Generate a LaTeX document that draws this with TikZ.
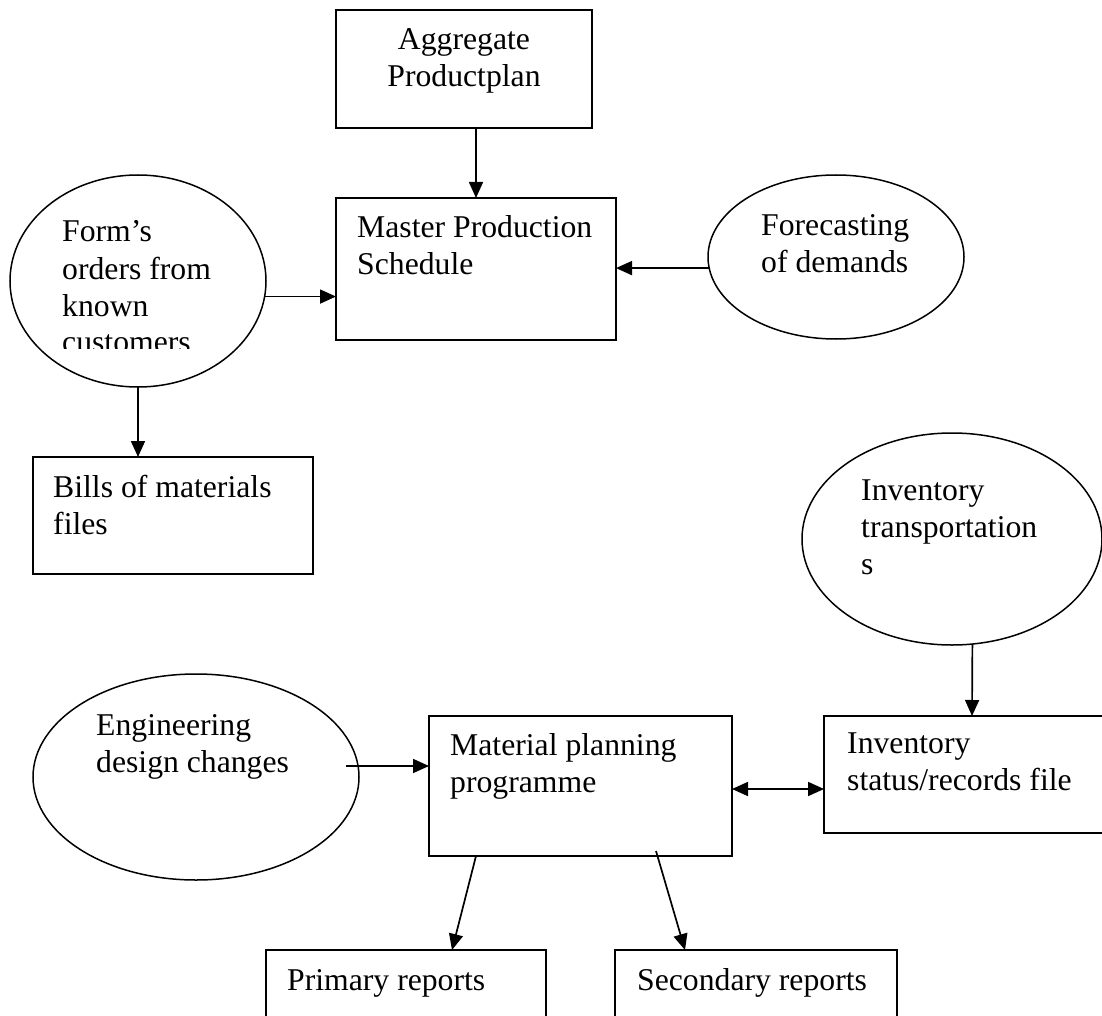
\documentclass[tikz,border=0pt]{standalone}
\usepackage{fontspec}
\setmainfont{Liberation Serif}
\usetikzlibrary{shapes.geometric,arrows.meta}
\newcommand{\mylines}[2][l]{\begin{tabular}[t]{@{}#1@{}}#2\end{tabular}}
\begin{document}
\begin{tikzpicture}[x=1pt,y=-1pt,
  box/.style={draw, line width=1.8pt, rectangle, inner sep=0pt, outer sep=0pt},
  ell/.style={draw, line width=1.5pt, ellipse, inner sep=0pt, outer sep=0pt},
  arr/.style={line width=1.7pt, -{Triangle[length=16pt,width=14pt]}},
  darr/.style={line width=1.7pt, {Triangle[length=16pt,width=14pt]}-{Triangle[length=16pt,width=14pt]}},
  txt/.style={anchor=base west, inner sep=0pt, font=\fontsize{31.7}{37}\selectfont},
  ]
\useasboundingbox (0,0) rectangle (1102,1016);
\clip (0,0) rectangle (1102,1016);

% boxes
\node[box, minimum width=256pt, minimum height=118pt] (agg) at (464,69) {};
\node[box, minimum width=280pt, minimum height=142pt] (mps) at (476,269) {};
\node[box, minimum width=280pt, minimum height=117pt] (bills) at (173,515.5) {};
\node[box, minimum width=303pt, minimum height=140pt] (mpp) at (580.5,786) {};
\node[box, minimum width=296pt, minimum height=117pt] (invbox) at (972,774.5) {};
\node[box, minimum width=280pt, minimum height=90pt] (prim) at (406,995) {};
\node[box, minimum width=282pt, minimum height=90pt] (sec) at (756,995) {};

% ellipses
\node[ell, minimum width=256pt, minimum height=212pt] (form) at (138,281) {};
\node[ell, minimum width=256pt, minimum height=164pt] (fore) at (836,257) {};
\node[ell, minimum width=300pt, minimum height=212pt] (inv) at (952,539) {};
\node[ell, minimum width=326pt, minimum height=206pt] (eng) at (196,777) {};

% texts
\node[txt, anchor=base] (tagg) at (464,50) {\mylines[c]{Aggregate\\Productplan}};
\node[txt] (tmps) at (357,237) {\mylines{Master Production\\Schedule}};
\begin{scope}
\clip (0,0) rectangle (1102,348);
\node[txt] (tform) at (62,242) {\mylines{Form’s\\orders from\\known\\customers}};
\end{scope}
\node[txt] (tfore) at (761,236) {\mylines{Forecasting\\of demands}};
\node[txt] (tbills) at (53,497) {\mylines{Bills of materials\\files}};
\node[txt] (tinv) at (861,500) {\mylines{Inventory\\transportation\\s}};
\node[txt] (tinvb) at (847,753) {\mylines{Inventory\\status/records file}};
\node[txt] (teng) at (96,735) {\mylines{Engineering\\design changes}};
\node[txt] (tmpp) at (450,755) {\mylines{Material planning\\programme}};
\node[txt] (tprim) at (287,990) {Primary reports};
\node[txt] (tsec) at (637,990) {Secondary reports};

% connectors
\draw[arr] (agg.south -| mps.north) -- (mps.north);
\coordinate (fo) at (form.-7.7);
\draw[arr] (fo) -- (fo -| mps.west);
\coordinate (fe) at (fore.185);
\draw[arr] (fe) -- (fe -| mps.east);
\draw[arr] (form.south) -- (form.south |- bills.north);
\draw[arr] (inv.-79.2) -- (invbox.north);
\coordinate (eo) at ([shift={(-13,-11)}]eng.east);
\draw[arr] (eo) -- (eo -| mpp.west);
\coordinate (mo) at ([yshift=-3pt]mpp.east);
\draw[darr] (mo) -- (mo -| invbox.west);
\draw[arr] ([xshift=-104.5pt]mpp.south) -- ([xshift=46pt]prim.north);
\draw[arr] ([shift={(75.5,-5)}]mpp.south) -- ([xshift=-71pt]sec.north);
\end{tikzpicture}
\end{document}
